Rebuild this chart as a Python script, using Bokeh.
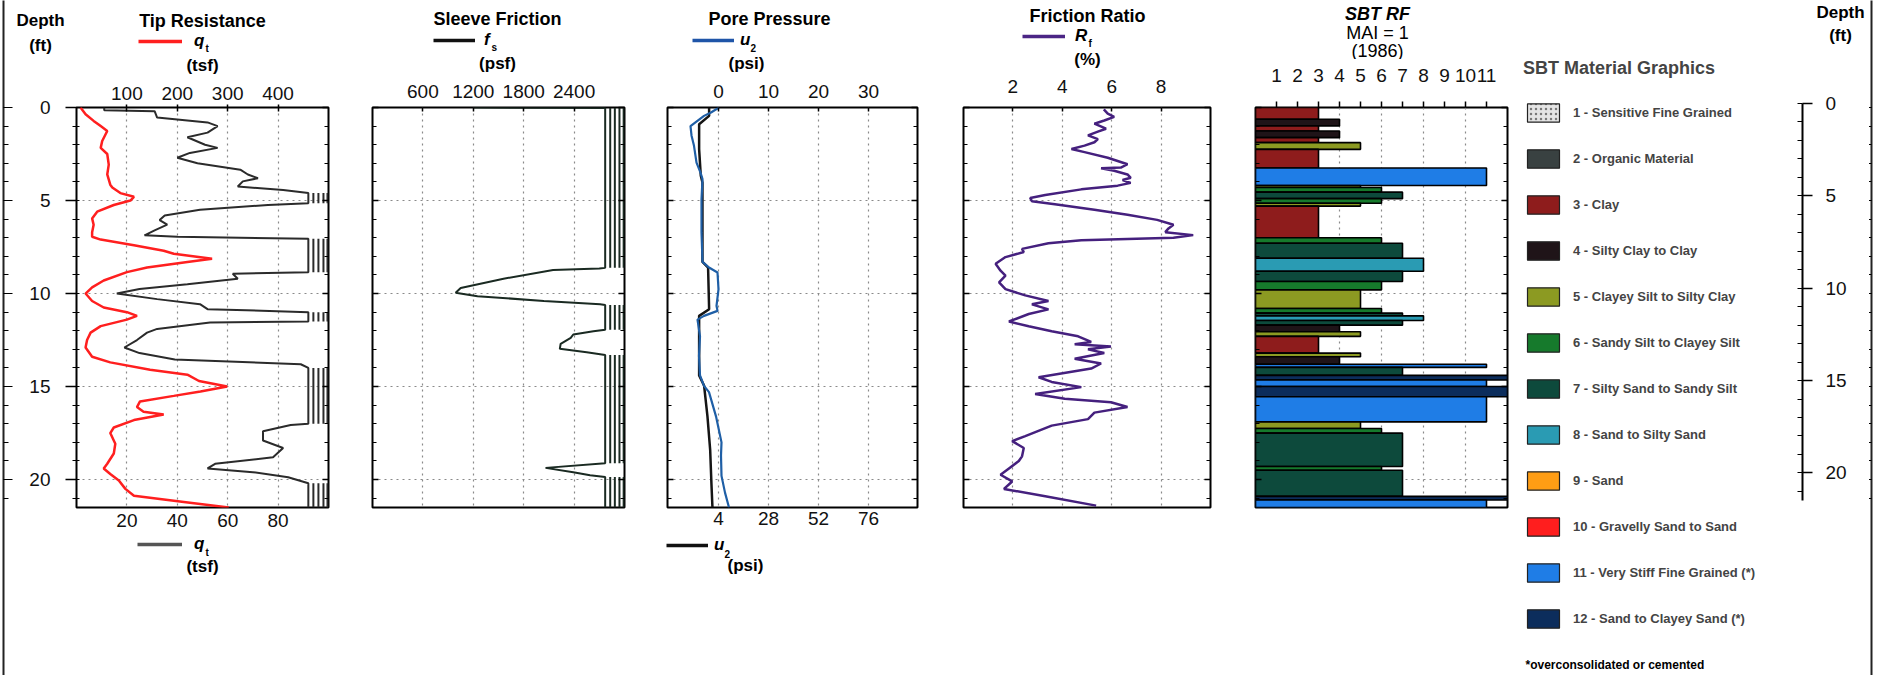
import numpy as np
from bokeh.plotting import figure
from bokeh.layouts import row, column
from bokeh.models import (Range1d, LinearAxis, FixedTicker, Grid, Legend, LegendItem,
                          ColumnDataSource)
from bokeh.core.properties import value
from bokeh.embed import file_html
from bokeh.resources import INLINE

FONT = "Liberation Sans"
DMAX = 21.5

# ---------------- data ----------------
depth_ticks = [0, 5, 10, 15, 20]
depth_minor = list(range(0, 22))

# Tip resistance q_t (tsf) read on top scale (0-500), red
qt_red_depth = [0, 0.36, 0.72, 1.0, 1.26, 1.8, 2.17, 2.5, 3.07, 3.6, 4.15, 4.3, 4.6, 4.8, 5.0,
                5.24, 5.6, 5.96, 6.3, 6.7, 6.95, 7.1, 7.4, 7.7, 7.86, 8.13, 8.3, 8.6, 8.85, 9.3,
                9.67, 10.0, 10.4, 10.75, 11.0, 11.2, 11.4, 11.75, 12.1, 12.5, 12.9, 13.4, 13.7,
                14.1, 14.36, 14.7, 15.0, 15.26, 15.5, 15.8, 16.1, 16.35, 16.5, 16.8, 17.2, 17.5,
                18.07, 18.6, 19.15, 19.4, 19.7, 20.05, 20.5, 20.87, 21.2, 21.5]
qt_red = [8, 18, 34, 48, 61, 51, 48, 61, 64, 61, 67, 71, 87, 114, 107,
          74, 41, 31, 34, 31, 31, 48, 114, 173, 193, 269, 220, 140, 100, 54,
          31, 18, 31, 54, 100, 120, 100, 48, 28, 21, 18, 31, 67,
          146, 220, 243, 299, 246, 193, 126, 120, 133, 173, 114, 74, 67,
          77, 74, 61, 54, 67, 84, 97, 114, 213, 302]

# Tip resistance q_t (tsf) read on bottom scale (0-100), dark line (values > 92 off scale)
qt_blk_depth = [0, 0.15, 0.2, 0.54, 0.8, 1.0, 1.35, 1.6, 2.0, 2.17, 2.44, 2.7, 3.0, 3.34, 3.6,
                3.8, 3.97, 4.25, 4.43, 4.6, 5.15, 5.24, 5.5, 5.8, 6.05, 6.3, 6.6, 6.87, 6.95,
                7.05, 8.85, 8.94, 9.2, 9.5, 9.76, 10.0, 10.3, 10.57, 10.84, 11.0, 11.5, 11.56,
                11.9, 12.1, 12.5, 12.9, 13.2, 13.55, 13.8, 14.0, 17.0, 17.07, 17.4, 17.9, 18.3,
                18.8, 19.15, 19.4, 19.6, 19.87, 20.2, 21.5]
qt_blk = [11, 11, 31, 32, 52, 56, 52, 44, 51, 56, 45, 40, 48, 65, 68,
          72, 66, 64, 82, 130, 130, 76, 49, 35, 33, 36, 31, 27, 40,
          130, 130, 62, 64, 44, 25, 16, 32, 49, 52, 130, 130, 53,
          32, 28, 24, 19, 25, 39, 89, 130, 130, 85, 74, 74, 82,
          78, 55, 52, 70, 84, 130, 130]

# Sleeve friction f_s (psf)
fs_depth = [0.0, 0.03, 8.62, 8.66, 8.74, 9.2, 9.7, 9.96, 10.14, 10.4, 10.58, 10.62, 11.94,
            12.03, 12.2, 12.38, 12.7, 12.97, 13.15, 13.3, 19.05, 19.12, 19.37, 19.6, 19.77,
            19.86, 21.5]
fs = [1200, 3400, 3400, 2700, 2150, 1560, 1050, 990, 1250, 2040, 2710, 3400, 3400,
      2630, 2390, 2360, 2240, 2230, 2550, 3400, 3400, 2780, 2060, 2390, 2590,
      3400, 3400]

# Pore pressure u2 (psi), top scale (blue)
u2_blue_depth = [0, 0.27, 0.45, 1.0, 1.5, 2.06, 2.96, 3.5, 3.85, 4.93, 6.7, 8.3, 8.6, 8.87,
                 9.77, 10.66, 10.93, 11.2, 11.4, 12.3, 13.35, 14.4, 14.96, 15.3, 16.6, 18.0,
                 18.7, 19.8, 20.7, 21.5]
u2_blue = [0.1, -1.5, -2.9, -5.6, -5.4, -4.9, -4.4, -3.6, -3.2, -3.4, -3.4, -3.2, -1.9, -0.2,
           0.0, -0.4, -0.2, -2.9, -4.2, -3.7, -3.9, -3.7, -2.9, -1.9, -0.5, 0.6,
           0.5, 0.6, 1.3, 2.1]
# Pore pressure u2 (psi), bottom scale (black)
u2_blk_depth = [0, 0.45, 0.9, 2.24, 3.67, 4.03, 8.3, 8.6, 10.84, 11.2, 14.4, 14.96, 16.6,
                18.4, 20.2, 21.5]
u2_blk = [-0.5, -0.5, -5.3, -5.3, -4.5, -3.7, -3.7, -1.0, -0.5, -5.3, -5.3, -2.9, -1.3,
          0.0, 0.6, 1.1]

# Friction ratio Rf (%)
rf_depth = [0.1, 0.33, 0.5, 0.7, 0.87, 1.14, 1.3, 1.5, 1.7, 1.87, 2.05, 2.23, 2.4, 2.7, 3.05,
            3.23, 3.27, 3.4, 3.6, 3.78, 3.9, 4.05, 4.2, 4.4, 4.7, 4.86, 5.04, 5.2, 5.5, 5.77,
            6.04, 6.3, 6.5, 6.7, 6.86, 7.0, 7.13, 7.3, 7.6, 7.77, 8.04, 8.4, 8.77, 9.04, 9.4,
            9.76, 10.1, 10.4, 10.58, 10.85, 11.1, 11.5, 11.76, 12.03, 12.3, 12.6, 12.72,
            12.85, 13.0, 13.2, 13.5, 13.76, 14.03, 14.5, 14.75, 15.03, 15.4, 15.66, 15.84,
            16.1, 16.4, 16.75, 17.1, 17.66, 17.93, 18.3, 18.75, 19.0, 19.4, 19.74, 20.1,
            20.5, 20.9, 21.4]
rf = [5.68, 5.84, 6.1, 5.7, 5.3, 5.77, 5.44, 5.04, 5.44, 5.3, 4.9, 4.37, 4.9, 5.84, 6.64,
      6.37, 5.57, 6.1, 6.64, 6.77, 6.44, 6.77, 6.24, 4.77, 3.31, 2.7, 2.77, 3.7, 5.3, 6.64,
      7.84, 8.5, 8.3, 8.17, 9.3, 8.5, 4.77, 3.44, 2.37, 2.44, 1.7, 1.3, 1.5, 1.7, 1.44,
      1.7, 2.5, 3.44, 2.77, 3.44, 2.64, 1.84, 2.64, 3.57, 4.64, 5.17, 4.5,
      5.97, 5.04, 5.7, 4.5, 5.57, 5.17, 3.04, 3.57, 4.77, 2.9, 4.1, 5.97,
      6.64, 5.3, 5.04, 3.57, 2.5, 1.97, 2.44, 2.37, 2.24, 1.84, 1.5, 1.97,
      1.64, 3.31, 5.37]

# SBT (Robertson 1986) layers
sbt_top = [0.0, 0.63, 0.99, 1.26, 1.62, 1.89, 2.25, 3.25, 4.19, 4.3, 4.55, 4.9, 5.15, 5.3,
           7.0, 7.3, 8.1, 8.8, 9.35, 9.8, 10.8, 11.05, 11.2, 11.45, 11.7, 12.05, 12.3, 13.2,
           13.4, 13.8, 13.97, 14.4, 14.65, 15.0, 15.55, 16.9, 17.25, 17.5, 19.3, 19.5, 20.9,
           21.1]
sbt_bot = sbt_top[1:] + [21.5]
sbt_zone = [3, 4, 3, 4, 3, 5, 3, 11, 5, 6, 7, 6, 5, 3,
            6, 7, 8, 7, 6, 5, 6, 7, 8, 7, 4, 5, 3, 5,
            4, 11, 7, 12, 11, 12, 11, 5, 6, 7, 6, 7, 12,
            11]

zone_names = ["1 - Sensitive Fine Grained", "2 - Organic Material", "3 - Clay",
              "4 - Silty Clay to Clay", "5 - Clayey Silt to Silty Clay",
              "6 - Sandy Silt to Clayey Silt", "7 - Silty Sand to Sandy Silt",
              "8 - Sand to Silty Sand", "9 - Sand", "10 - Gravelly Sand to Sand",
              "11 - Very Stiff Fine Grained (*)", "12 - Sand to Clayey Sand (*)"]
zone_colors = ["#e4e4e4", "#394141", "#8e1c1c", "#1f1418", "#8c9a22", "#167a2c",
               "#0d4a3c", "#2a9bb3", "#ff9d14", "#ff1e1e", "#1f7de6", "#0c2d5c"]

qt_top_ticks = [100, 200, 300, 400]
qt_bot_ticks = [20, 40, 60, 80]
fs_ticks = [600, 1200, 1800, 2400]
u2_top_ticks = [0, 10, 20, 30]
u2_bot_ticks = [4, 28, 52, 76]
rf_ticks = [2, 4, 6, 8]
sbt_ticks = list(range(1, 12))

# ---------------- layout helpers (page px) ----------------
PAGE_H = 675
FT, FB = 107, 507
PX_FT = (FB - FT) / DMAX
MAIN_BOT = 535


def base_fig(**kw):
    p = figure(x_axis_location=None, y_axis_location=None, tools="",
               toolbar_location=None, output_backend="svg", **kw)
    p.center = []
    if "frame_align" in p.properties():
        p.frame_align = False
    p.outline_line_color = None
    p.background_fill_color = "white"
    p.border_fill_color = "white"
    return p


def strip(x0, x1, y0, y1):
    """A plain drawing strip whose data coordinates are page pixels."""
    return base_fig(frame_width=x1 - x0, frame_height=y1 - y0, min_border=0,
                    min_border_left=0, min_border_right=0, min_border_top=0,
                    min_border_bottom=0, x_range=Range1d(x0, x1), y_range=Range1d(y1, y0))


def txt(p, text, x, y, size=17, style="bold", align="center"):
    p.text(x=[x], y=[y], text=[text], text_font=value(FONT), text_font_size=value(f"{size}px"),
           text_font_style=value(style), text_align=value(align),
           text_baseline=value("middle"), text_color="black")


def key(p, x0, y1, xa, xb, yc, color, label, lab_x, h=16):
    """Legend key: sample line from xa to xb at height yc, label starting at lab_x."""
    r = p.line(x=[np.nan], y=[np.nan], line_color=color, line_width=3.5)
    leg = Legend(items=[LegendItem(label=label, renderers=[r])],
                 location=(xa - x0, (y1 - yc) - h / 2), glyph_width=xb - xa, glyph_height=h,
                 label_height=h, label_standoff=lab_x - xb, padding=0, margin=0,
                 border_line_color=None, background_fill_alpha=0, label_text_font=FONT,
                 label_text_font_size="17px", label_text_font_style="bold italic",
                 label_text_color="black")
    p.add_layout(leg, "center")


def make_main(x0, frame_l, frame_w, x1, top_b, bot_b, xr):
    p = base_fig(frame_width=frame_w, frame_height=FB - FT,
                 min_border_left=frame_l - x0, min_border_right=x1 - frame_l - frame_w,
                 min_border_top=top_b, min_border_bottom=bot_b,
                 x_range=xr, y_range=Range1d(DMAX, 0))
    p.outline_line_color = "black"
    p.outline_line_width = 2
    return p


def x_axis(p, ticks, side, rname="default", standoff=6, tin=4, tout=0):
    ax = LinearAxis(x_range_name=rname, ticker=FixedTicker(ticks=ticks),
                    axis_line_color=None, major_tick_in=tin, major_tick_out=tout,
                    major_tick_line_width=1.5, minor_tick_line_color=None,
                    major_label_standoff=standoff, major_label_text_font=FONT,
                    major_label_text_font_size="19px", major_label_text_color="#111")
    p.add_layout(ax, side)


def depth_axis(p, side, labels=False):
    ax = LinearAxis(ticker=FixedTicker(ticks=depth_ticks, minor_ticks=depth_minor),
                    axis_line_color=None, major_tick_in=6, major_tick_out=0,
                    minor_tick_in=4, minor_tick_out=0, major_tick_line_width=1.5,
                    minor_tick_line_width=1.2, major_label_text_font=FONT,
                    major_label_text_font_size="19px", major_label_text_color="#111")
    if labels:
        ax.major_tick_out = 11
        ax.major_tick_in = 0
        ax.minor_tick_out = 4
        ax.minor_tick_in = 3
        ax.major_label_standoff = 15
    else:
        ax.major_label_overrides = {t: "" for t in depth_ticks}
        ax.major_label_standoff = 0
    p.add_layout(ax, side)


def border_scale(x0, x1, line_x, side):
    """Page-frame line with depth ticks (full page height)."""
    if side == "right":
        kw = dict(min_border_left=0, min_border_right=x1 - line_x, frame_width=line_x - x0)
    else:
        kw = dict(min_border_left=line_x - x0, min_border_right=0, frame_width=x1 - line_x)
    p = base_fig(frame_height=PAGE_H, min_border_top=0, min_border_bottom=0,
                 x_range=Range1d(0, 1),
                 y_range=Range1d((PAGE_H - FT) / PX_FT, -FT / PX_FT), **kw)
    ax = LinearAxis(ticker=FixedTicker(ticks=depth_ticks, minor_ticks=depth_minor),
                    axis_line_width=2, axis_line_color="#222",
                    major_tick_in=9, major_tick_out=0, minor_tick_in=5, minor_tick_out=0,
                    major_tick_line_width=1.2, minor_tick_line_width=1,
                    major_label_overrides={t: "" for t in depth_ticks}, major_label_standoff=0)
    p.add_layout(ax, side)
    return p


def grids(p, xt):
    p.add_layout(Grid(dimension=0, ticker=FixedTicker(ticks=xt), grid_line_color="#8a8a8a",
                      grid_line_dash="2 4", grid_line_width=1.2), "center")
    p.add_layout(Grid(dimension=1, ticker=FixedTicker(ticks=[5, 10, 15, 20]),
                      grid_line_color="#8a8a8a", grid_line_dash="2 4",
                      grid_line_width=1.2), "center")


def offscale(vals, cap, offsets):
    v = np.asarray(vals, float)
    return [np.where(v > cap, o, np.nan) for o in offsets]


# ---------------- column 0: left page frame ----------------
col0 = border_scale(0, 13, 3, "left")

# ---------------- column 1: tip resistance ----------------
X0, X1, FL, FW, HT = 13, 350, 76, 252, 77
h1 = strip(X0, X1, 0, HT)
txt(h1, "Depth", 40, 20)
txt(h1, "(ft)", 40, 45)
txt(h1, "Tip Resistance", 202, 20, size=18)
key(h1, X0, HT, 138, 182, 43, "#ff1f1f", "q", 194)
txt(h1, "t", 205, 48, size=10, align="left")
txt(h1, "(tsf)", 202, 65)
p1 = make_main(X0, FL, FW, X1, FT - HT, MAIN_BOT - FB, Range1d(0, 100))
p1.extra_x_ranges = {"top": Range1d(0, 500)}
grids(p1, qt_bot_ticks)
x_axis(p1, qt_top_ticks, "above", rname="top", standoff=5, tin=4, tout=3)
x_axis(p1, qt_bot_ticks, "below", standoff=6, tin=0)
depth_axis(p1, "left", labels=True)
depth_axis(p1, "right")
QT_CAP = 92
p1.line(np.minimum(np.asarray(qt_blk, float), QT_CAP), qt_blk_depth, line_color="#2b2b2b",
        line_width=2)
for xs in offscale(qt_blk, QT_CAP, [94, 96, 98, 99.6]):
    p1.line(xs, qt_blk_depth, line_color="#2b2b2b", line_width=2)
p1.line(qt_red, qt_red_depth, x_range_name="top", line_color="#ff1f1f", line_width=2.5)
f1 = strip(X0, X1, MAIN_BOT, PAGE_H)
key(f1, X0, PAGE_H, 137, 182, 547, "#555555", "q", 194, h=14)
txt(f1, "t", 205, 552, size=10, align="left")
txt(f1, "(tsf)", 202, 566)
col1 = column(h1, p1, f1)

# ---------------- column 2: sleeve friction ----------------
X0, X1, FL, FW, HT = 350, 645, 372, 252, 74
h2 = strip(X0, X1, 0, HT)
txt(h2, "Sleeve Friction", 497, 18, size=18)
key(h2, X0, HT, 433, 475, 42, "#111111", "f", 484)
txt(h2, "s", 491, 47, size=10, align="left")
txt(h2, "(psf)", 497, 63)
p2 = make_main(X0, FL, FW, X1, FT - HT, MAIN_BOT - FB, Range1d(0, 3000))
grids(p2, fs_ticks)
x_axis(p2, fs_ticks, "above", standoff=10, tin=4)
depth_axis(p2, "left")
depth_axis(p2, "right")
FS_CAP = 2770
p2.line(np.minimum(np.asarray(fs, float), FS_CAP), fs_depth, line_color="#1a2a22", line_width=2)
for xs in offscale(fs, FS_CAP, [2830, 2885, 2940, 2990]):
    p2.line(xs, fs_depth, line_color="#1a2a22", line_width=2)
f2 = strip(X0, X1, MAIN_BOT, PAGE_H)
col2 = column(h2, p2, f2)

# ---------------- column 3: pore pressure ----------------
X0, X1, FL, FW, HT = 645, 940, 667, 250, 74
h3 = strip(X0, X1, 0, HT)
txt(h3, "Pore Pressure", 769, 18, size=18)
key(h3, X0, HT, 692, 734, 42, "#1f55a8", "u", 740)
txt(h3, "2", 750, 47, size=10, align="left")
txt(h3, "(psi)", 746, 63)
p3 = make_main(X0, FL, FW, X1, FT - HT, MAIN_BOT - FB, Range1d(-10.2, 39.8))
p3.extra_x_ranges = {"bot": Range1d(-20.48, 99.52)}
grids(p3, u2_top_ticks)
x_axis(p3, u2_top_ticks, "above", standoff=10, tin=4)
x_axis(p3, u2_bot_ticks, "below", rname="bot", standoff=4, tin=0)
depth_axis(p3, "left")
depth_axis(p3, "right")
p3.line(u2_blk, u2_blk_depth, x_range_name="bot", line_color="#151515", line_width=2.5)
p3.line(u2_blue, u2_blue_depth, line_color="#1f5fa6", line_width=2.2)
f3 = strip(X0, X1, MAIN_BOT, PAGE_H)
key(f3, X0, PAGE_H, 666, 708, 548, "#111111", "u", 714, h=14)
txt(f3, "2", 724, 553, size=10, align="left")
txt(f3, "(psi)", 745, 565)
col3 = column(h3, p3, f3)

# ---------------- column 4: friction ratio ----------------
X0, X1, FL, FW, HT = 940, 1232, 963, 247, 70
h4 = strip(X0, X1, 0, HT)
txt(h4, "Friction Ratio", 1087, 15, size=18)
key(h4, X0, HT, 1022, 1065, 38, "#4b2585", "R", 1075)
txt(h4, "f", 1088, 43, size=10, align="left")
txt(h4, "(%)", 1087, 59)
p4 = make_main(X0, FL, FW, X1, FT - HT, MAIN_BOT - FB, Range1d(0, 10))
grids(p4, rf_ticks)
x_axis(p4, rf_ticks, "above", standoff=15, tin=4)
depth_axis(p4, "left")
depth_axis(p4, "right")
p4.line(rf, rf_depth, line_color="#45207e", line_width=2.5)
f4 = strip(X0, X1, MAIN_BOT, PAGE_H)
col4 = column(h4, p4, f4)

# ---------------- column 5: SBT RF ----------------
X0, X1, FL, FW, HT = 1232, 1517, 1255, 252, 59
h5 = strip(X0, X1, 0, HT)
txt(h5, "SBT RF", 1377, 13, size=18, style="bold italic")
txt(h5, "MAI = 1", 1377, 32, size=18, style="normal")
txt(h5, "(1986)", 1377, 50, size=18, style="normal")
p5 = make_main(X0, FL, FW, X1, FT - HT, MAIN_BOT - FB, Range1d(0, 12))
grids(p5, [2, 4, 6, 8, 10])
x_axis(p5, sbt_ticks, "above", standoff=20, tin=0, tout=6)
depth_axis(p5, "left")
depth_axis(p5, "right")
sbt_src = ColumnDataSource(dict(
    y=[(a + b) / 2 for a, b in zip(sbt_top, sbt_bot)],
    h=[b - a for a, b in zip(sbt_top, sbt_bot)],
    z=sbt_zone,
    c=[zone_colors[z - 1] for z in sbt_zone]))
p5.hbar(y="y", height="h", left=0, right="z", fill_color="c", line_color="black",
        line_width=1.6, source=sbt_src)
f5 = strip(X0, X1, MAIN_BOT, PAGE_H)
col5 = column(h5, p5, f5)

# ---------------- column 6: legend ----------------
X0, X1 = 1517, 1795
g6 = strip(X0, X1, 0, PAGE_H)
items = []
for i, (nm, col) in enumerate(zip(zone_names, zone_colors)):
    kw = dict(hatch_pattern="dot", hatch_color="#777777", hatch_scale=5) if i == 0 else {}
    r = g6.rect(x=[np.nan], y=[np.nan], width=1, height=1, fill_color=col,
                line_color="#222222", line_width=1.2, **kw)
    items.append(LegendItem(label=nm, renderers=[r]))
LEG_TOP, LEG_H = 58, 572
leg = Legend(items=items, location=(1523 - X0, PAGE_H - LEG_TOP - LEG_H),
             title="SBT Material Graphics",
             title_text_font=FONT, title_text_font_style="bold", title_text_font_size="18px",
             title_standoff=22, label_text_font=FONT, label_text_font_style="bold",
             label_text_font_size="13px", glyph_width=40, glyph_height=23, label_height=23,
             spacing=23, label_standoff=10, padding=0, margin=0, border_line_color=None,
             background_fill_alpha=0)
g6.add_layout(leg, "center")
txt(g6, "*overconsolidated or cemented", 1525, 664, size=12, align="left")

# ---------------- column 7: right depth scale ----------------
X0, X1, HT = 1795, 1869, 66
h7 = strip(X0, X1, 0, HT)
txt(h7, "Depth", 1840, 12)
txt(h7, "(ft)", 1840, 35)
d0_px, px_ft, fb7 = 103, 18.47, 660
p7 = base_fig(frame_width=7, frame_height=fb7 - HT, min_border_left=0, min_border_right=X1 - 1802,
              min_border_top=0, min_border_bottom=PAGE_H - fb7, x_range=Range1d(0, 1),
              y_range=Range1d((fb7 - d0_px) / px_ft, (HT - d0_px) / px_ft))
rax = LinearAxis(bounds=(0, DMAX), ticker=FixedTicker(ticks=depth_ticks, minor_ticks=depth_minor),
                 axis_line_width=2, major_tick_out=10, major_tick_in=0, minor_tick_in=5,
                 minor_tick_out=0, major_tick_line_width=1.5, major_label_standoff=13,
                 major_label_text_font=FONT, major_label_text_font_size="19px",
                 major_label_text_color="#111")
p7.add_layout(rax, "right")
col7 = column(h7, p7)

# ---------------- column 8: right page frame ----------------
col8 = border_scale(1869, 1881, 1871, "right")

layout = row(col0, col1, col2, col3, col4, col5, g6, col7, col8)
open("out.html", "w").write(file_html(layout, INLINE))
